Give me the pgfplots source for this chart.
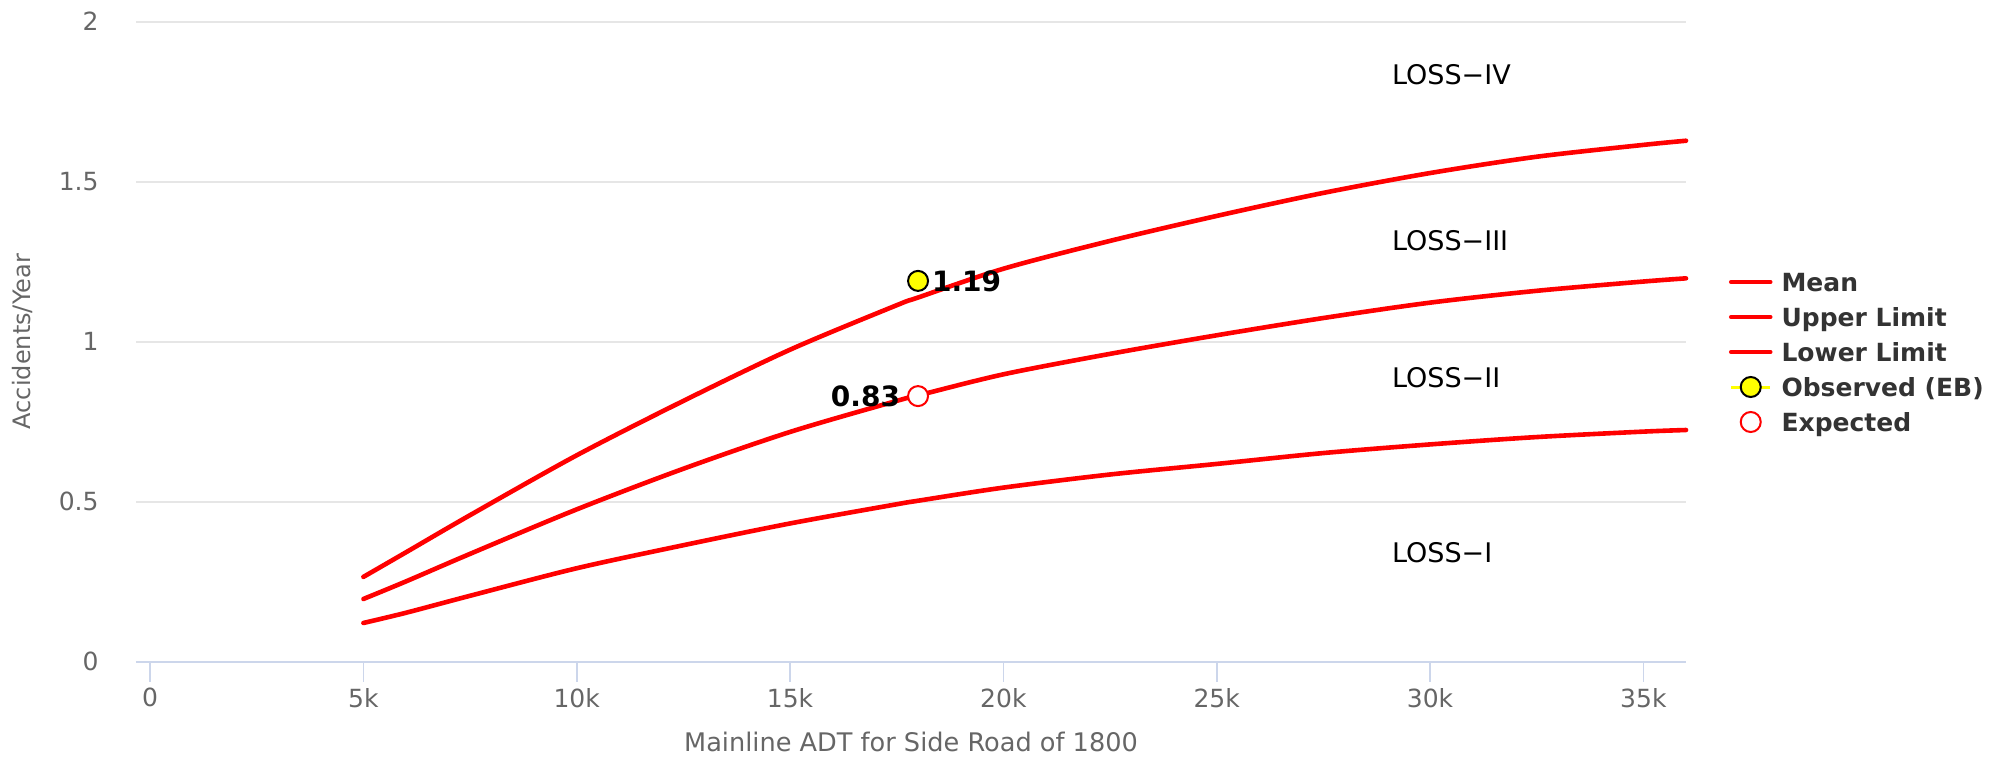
\documentclass[border=0pt]{standalone}
\usepackage{pgfplots}
\pgfplotsset{compat=1.18}
\usepackage{fontspec}
\setmainfont{DejaVu Sans}
\definecolor{tickgray}{HTML}{666666}
\definecolor{axisblue}{HTML}{CCD6EB}
\definecolor{gridgray}{HTML}{E6E6E6}
\definecolor{legtext}{HTML}{333333}
\definecolor{hcred}{HTML}{FF0000}
\definecolor{hcyellow}{HTML}{FFFF00}

\begin{document}
\begin{tikzpicture}
\path[use as bounding box] (-68pt,-49.15pt) rectangle (935pt,330.85pt);
\begin{axis}[
  at={(0pt,0pt)}, anchor=south west,
  scale only axis, width=775pt, height=320pt,
  xmin=-330, xmax=36000, ymin=0, ymax=2,
  axis x line*=bottom, axis y line*=left,
  x axis line style={draw=axisblue, line width=1pt, -},
  y axis line style={draw=none, -},
  scaled x ticks=false, scaled y ticks=false,
  xtick={0,5000,10000,15000,20000,25000,30000,35000},
  xticklabels={0,5k,10k,15k,20k,25k,30k,35k},
  ytick={0,0.5,1,1.5,2},
  yticklabels={0,0.5,1,1.5,2},
  xtick align=outside,
  major tick length=10pt,
  xtick style={draw=axisblue, line width=0.8pt},
  ytick style={draw=none},
  ymajorgrids,
  major grid style={draw=gridgray, line width=1pt},
  ticklabel style={font=\fontsize{12.5}{14}\selectfont, text=tickgray},
  xticklabel style={inner sep=0pt, yshift=-3pt},
  yticklabel style={anchor=east, inner sep=0pt, xshift=-18.5pt},
  xlabel={Mainline ADT for Side Road of 1800},
  ylabel={Accidents/Year},
  every axis x label/.style={at={(axis description cs:0.5,-0.125)}, anchor=center, font=\fontsize{12.8}{14}\selectfont, text=tickgray},
  every axis y label/.style={at={(axis description cs:-0.0729,0.5)}, rotate=90, anchor=center, font=\fontsize{12}{14}\selectfont, text=tickgray},
  legend style={at={(1.0277,0.4839)}, anchor=west, draw=none, fill=none,
    inner sep=0pt, outer sep=0pt, row sep=5pt, column sep=4.5pt,
    font=\bfseries\fontsize{12.5}{14}\selectfont, text=legtext,
    nodes={inner sep=0pt, text height=10.8pt, text depth=1.7pt}},
  legend cell align=left,
  legend image code/.code={\draw[mark repeat=2, mark phase=2, #1] plot coordinates {(0pt,0pt) (9.75pt,0pt) (19.5pt,0pt)};},
  clip=false,
]
% Mean
\addplot[hcred, line width=2.3pt, line cap=round, smooth] table {
x y
5000 0.196
6000 0.251
7500 0.337
10000 0.476
12500 0.603
15000 0.718
17500 0.815
18000 0.832
20000 0.898
22500 0.962
25000 1.020
27500 1.074
30000 1.122
32500 1.159
35000 1.188
36000 1.198
};
\addlegendentry{Mean}
% Upper limit
\addplot[hcred, line width=2.3pt, line cap=round, smooth] table {
x y
5000 0.265
6000 0.342
7500 0.458
10000 0.645
12500 0.815
15000 0.975
17500 1.114
18000 1.138
20000 1.228
22500 1.315
25000 1.393
27500 1.465
30000 1.527
32500 1.578
35000 1.615
36000 1.628
};
\addlegendentry{Upper Limit}
% Lower limit
\addplot[hcred, line width=2.3pt, line cap=round, smooth] table {
x y
5000 0.121
6000 0.153
7500 0.206
10000 0.292
12500 0.364
15000 0.432
17500 0.492
18000 0.503
20000 0.544
22500 0.585
25000 0.618
27500 0.652
30000 0.679
32500 0.702
35000 0.719
36000 0.724
};
\addlegendentry{Lower Limit}
% Observed (EB)
\addplot[forget plot, only marks, mark=*, mark size=5pt,
  mark options={fill=hcyellow, draw=black, line width=1pt},
  nodes near coords={1.19},
  every node near coord/.style={anchor=west, inner sep=0pt, xshift=6.5pt, yshift=0pt, text=black, font=\bfseries\fontsize{14}{16}\selectfont}]
  coordinates {(18000,1.19)};
\addlegendimage{hcyellow, line width=1.5pt, mark=*, mark size=5pt, mark options={fill=hcyellow, draw=black, line width=1pt}}
\addlegendentry{Observed (EB)}
% Expected
\addplot[only marks, mark=*, mark size=5pt,
  mark options={fill=white, draw=hcred, line width=1pt},
  nodes near coords={0.83},
  every node near coord/.style={anchor=east, inner sep=0pt, xshift=-8.5pt, yshift=0pt, text=black, font=\bfseries\fontsize{14}{16}\selectfont}]
  coordinates {(18000,0.83)};
\addlegendentry{Expected}

\node[anchor=west, inner sep=0pt, font=\fontsize{13.5}{16}\selectfont] at (axis cs:29100,1.836) {LOSS−IV};
\node[anchor=west, inner sep=0pt, font=\fontsize{13.5}{16}\selectfont] at (axis cs:29100,1.315) {LOSS−III};
\node[anchor=west, inner sep=0pt, font=\fontsize{13.5}{16}\selectfont] at (axis cs:29100,0.887) {LOSS−II};
\node[anchor=west, inner sep=0pt, font=\fontsize{13.5}{16}\selectfont] at (axis cs:29100,0.340) {LOSS−I};
\end{axis}
\end{tikzpicture}
\end{document}
